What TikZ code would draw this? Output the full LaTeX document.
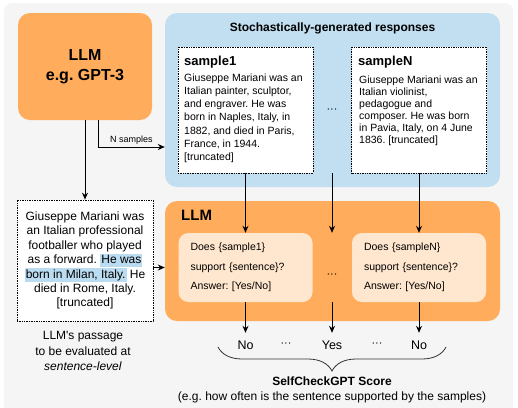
\documentclass[tikz,border=0pt]{standalone}
\usepackage{fontspec}
\setmainfont{Liberation Sans}
\usetikzlibrary{arrows.meta,decorations.pathreplacing}
\definecolor{bggray}{HTML}{F5F5F5}
\definecolor{llmorange}{HTML}{FFAD5C}
\definecolor{respblue}{HTML}{C1DFF1}
\definecolor{qpeach}{HTML}{FFE7CF}
\definecolor{hlblue}{HTML}{BBDCF0}
\newcommand{\hlbit}[1]{{\setlength{\fboxsep}{1pt}\colorbox{hlblue}{\vphantom{Ay}#1}}}
\frenchspacing

\begin{document}
\begin{tikzpicture}[x=1pt,y=-1pt,
  panel/.style={rounded corners=12pt,inner sep=0pt},
  dotbox/.style={draw=black,densely dotted,line width=0.7pt,fill=white,inner sep=0pt},
  head/.style={inner sep=0pt,font=\fontsize{13}{16}\selectfont\bfseries},
  body/.style={align=left,inner sep=0pt,font=\fontsize{10.5}{13.2}\selectfont},
  qbox/.style={fill=qpeach,rounded corners=10pt,align=left,inner xsep=12pt,inner ysep=0pt,
    text width=110pt,minimum height=69pt,font=\fontsize{10.5}{19.5}\selectfont},
  dots/.style={inner sep=0pt,font=\fontsize{11}{13}\selectfont},
  ans/.style={inner xsep=2pt,inner ysep=7pt,text height=9pt,text depth=0pt,font=\fontsize{12.5}{15}\selectfont},
  arr/.style={-{Stealth[length=7pt,width=6pt]},line width=0.9pt},
  brace/.style={decorate,decoration={brace,mirror,amplitude=24pt},line width=0.8pt,draw=black!80}]
\useasboundingbox (0,0) rectangle (518,407);
\clip (0,0) rectangle (518,407);
\fill[bggray,rounded corners=8pt] (4,3) rectangle (513,440);

\node[panel,fill=llmorange,minimum width=134pt,minimum height=107pt,align=center,
  font=\fontsize{16}{20}\selectfont\bfseries] (gpt) at (85,66.5) {LLM\\e.g. GPT-3};
\node[panel,fill=respblue,minimum width=335pt,minimum height=174pt] (resp) at (332.5,100) {};
\node[inner sep=0pt,font=\fontsize{12}{14}\selectfont\bfseries] (resptitle) at (332.5,28) {Stochastically-generated responses};
\node[dotbox,minimum width=135pt,minimum height=126pt] (s1) at (245.5,110) {};
\node[dotbox,minimum width=135pt,minimum height=126pt] (sN) at (419,110) {};
\node[head,anchor=base west] (s1head) at (184,65) {sample1};
\node[body,anchor=north west] (s1text) at (184,73.4) {Giuseppe Mariani was an\\Italian painter, sculptor,\\and engraver. He was\\born in Naples, Italy, in\\1882, and died in Paris,\\France, in 1944.\\{}[truncated]};
\node[head,anchor=base west] (sNhead) at (358,65) {sampleN};
\node[body,anchor=north west,font=\fontsize{10.5}{12}\selectfont] (sNtext) at (359,76) {Giuseppe Mariani was an\\Italian violinist,\\pedagogue and\\composer. He was born\\in Pavia, Italy, on 4 June\\1836. [truncated]};
\node[dots] (d1) at (332,111) {···};

\node[panel,fill=llmorange,minimum width=335pt,minimum height=120pt] (llm) at (332.5,261) {};
\node[inner sep=0pt,anchor=west,font=\fontsize{15}{18}\selectfont\bfseries] (llmname) at (181,215) {LLM};
\node[qbox] (q1) at (245.5,267.5) {Does \{sample1\}\\support \{sentence\}?\\Answer: [Yes/No]};
\node[qbox] (qN) at (419,267.5) {Does \{sampleN\}\\support \{sentence\}?\\Answer: [Yes/No]};
\node[dots] (d2) at (332,276) {···};

\node[dotbox,minimum width=136pt,minimum height=121pt,align=center,
  font=\fontsize{12}{14.4}\selectfont] (pass) at (85,260.5) {Giuseppe Mariani was\\an Italian professional\\footballer who played\\as a forward. \hlbit{He was}\\\hlbit{born in Milan, Italy.} He\\died in Rome, Italy.\\{}[truncated]};
\node[align=center,inner sep=0pt,font=\fontsize{12}{15.5}\selectfont] (passcap) at (83,351) {LLM\textquotesingle s passage\\to be evaluated at\\\textit{sentence-level}};

\node[ans] (no1) at (245.5,344.5) {No};
\node[ans] (yes) at (332,344.5) {Yes};
\node[ans] (noN) at (419,344.5) {No};
\node[dots] (d3) at (286,344.5) {···};
\node[dots] (d4) at (377,344.5) {···};
\coordinate (bl) at (218,347);
\coordinate (br) at (446,347);
\draw[brace] (bl) -- (br);
\node[align=center,inner sep=0pt,font=\fontsize{12}{15}\selectfont] (score) at (332,390) {\textbf{SelfCheckGPT Score}\\(e.g. how often is the sentence supported by the samples)};

\draw[arr] (gpt.south) -- (pass.north);
\draw[arr] ([xshift=13pt]gpt.south) |- node[pos=0.75,above,inner sep=2pt,font=\fontsize{9}{11}\selectfont] {N samples} ([yshift=-47pt]resp.west);
\draw[arr] (pass.east |- q1.west) -- (llm.west |- q1.west);
\draw[arr] (s1.south) -- (q1.north);
\draw[arr] (s1.south -| d1) -- (q1.north -| d1);
\draw[arr] (sN.south) -- (qN.north);
\draw[arr] (q1.south) -- (no1.north);
\draw[arr] (q1.south -| yes) -- (yes.north);
\draw[arr] (qN.south) -- (noN.north);
\end{tikzpicture}
\end{document}
